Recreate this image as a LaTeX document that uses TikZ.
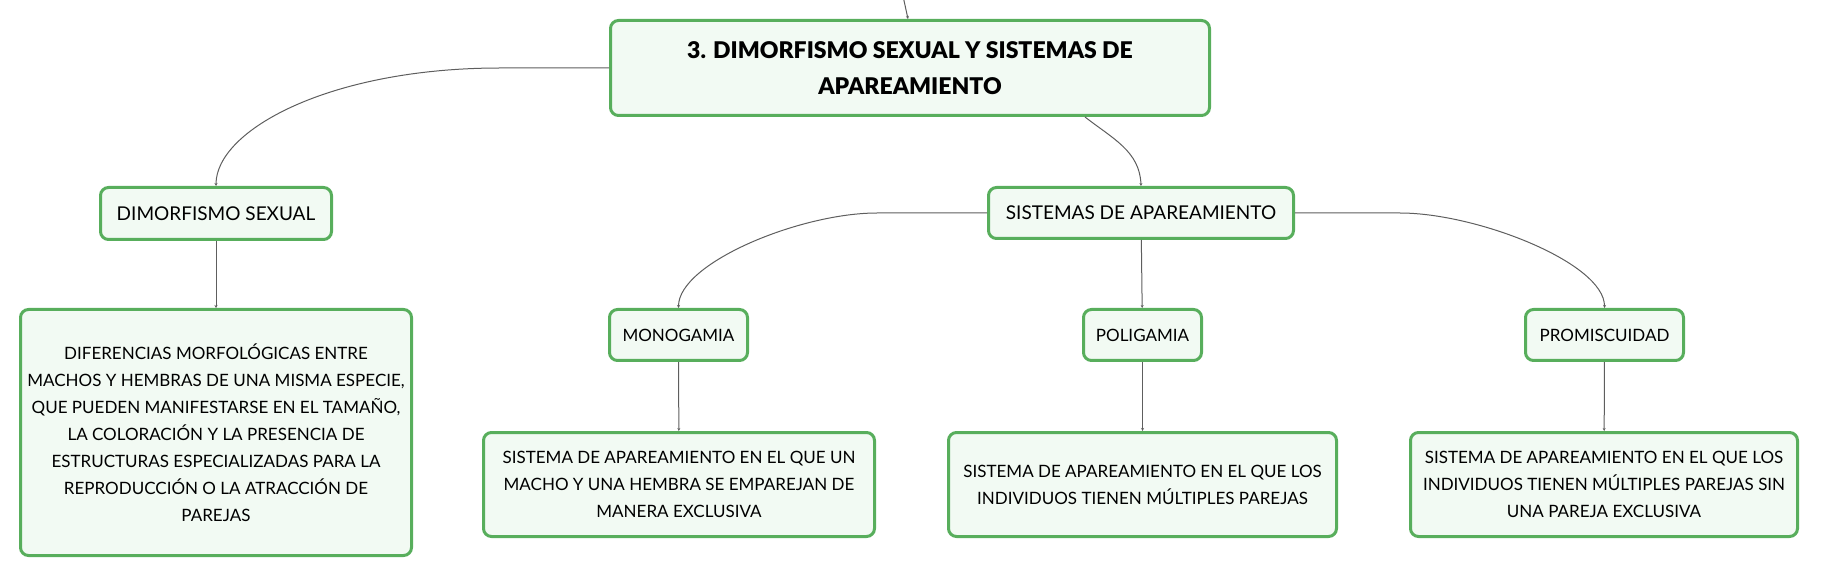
\documentclass[tikz,border=0pt]{standalone}
\usepackage{fontspec}
\setmainfont{Lato}
\newfontfamily\titlefont{Lato Black}
\usetikzlibrary{arrows.meta}
\definecolor{boxgreen}{HTML}{58AE5C}
\definecolor{boxfill}{HTML}{F2FAF3}
\definecolor{linkgray}{HTML}{5E5E5E}
\begin{document}
\begin{tikzpicture}[x=1pt,y=-1pt,
  topic/.style={draw=boxgreen,fill=boxfill,line width=3pt,rounded corners=8pt,
    align=center,inner sep=0pt,font=\fontsize{17}{27}\selectfont},
  subtopic/.style={topic,font=\fontsize{19}{27}\selectfont},
  title/.style={topic,font=\fontsize{23}{36}\selectfont\titlefont},
  link/.style={draw=linkgray,line width=1pt,-{Stealth[length=3pt,width=3pt]}}]
\useasboundingbox (0,0) rectangle (1821,577);

\node[title,minimum width=599,minimum height=95] (root) at (910,68) {3. DIMORFISMO SEXUAL Y SISTEMAS DE\\APAREAMIENTO};
\node[subtopic,minimum width=231,minimum height=52] (dimorf) at (216,213.5) {DIMORFISMO SEXUAL};
\node[subtopic,minimum width=305,minimum height=51] (sist) at (1141,213) {SISTEMAS DE APAREAMIENTO};

\node[topic,minimum width=391,minimum height=246] (dimdesc) at (216,432.5) {DIFERENCIAS MORFOLÓGICAS ENTRE\\MACHOS Y HEMBRAS DE UNA MISMA ESPECIE,\\QUE PUEDEN MANIFESTARSE EN EL TAMAÑO,\\LA COLORACIÓN Y LA PRESENCIA DE\\ESTRUCTURAS ESPECIALIZADAS PARA LA\\REPRODUCCIÓN O LA ATRACCIÓN DE\\PAREJAS};

\node[topic,minimum width=138,minimum height=51] (mono) at (678.5,335) {MONOGAMIA};
\node[topic,minimum width=118,minimum height=51] (poli) at (1142.5,335) {POLIGAMIA};
\node[topic,minimum width=158,minimum height=51] (promis) at (1604.5,335) {PROMISCUIDAD};

\node[topic,minimum width=391,minimum height=104] (monodesc) at (679,484.5) {SISTEMA DE APAREAMIENTO EN EL QUE UN\\MACHO Y UNA HEMBRA SE EMPAREJAN DE\\MANERA EXCLUSIVA};
\node[topic,minimum width=388,minimum height=104] (polidesc) at (1142.5,484.5) {SISTEMA DE APAREAMIENTO EN EL QUE LOS\\INDIVIDUOS TIENEN MÚLTIPLES PAREJAS};
\node[topic,minimum width=387,minimum height=104] (promdesc) at (1604,484.5) {SISTEMA DE APAREAMIENTO EN EL QUE LOS\\INDIVIDUOS TIENEN MÚLTIPLES PAREJAS SIN\\UNA PAREJA EXCLUSIVA};

\coordinate (up) at (903,-4);
\draw[link] (up) -- ([xshift=-2pt]root.north);
\draw[link] (root.west) -- ++(-109,0) .. controls +(-170,0) and +(0,-56) .. (dimorf.north);
\draw[link] ([xshift=175pt]root.south) to[out=-38,in=92] (sist.north);

\draw[link] (dimorf) -- (dimdesc);
\draw[link] (sist.west) -- ++(-110,0) .. controls +(-77,0) and +(0,-45) .. (mono.north);
\draw[link] (sist) -- (poli);
\draw[link] (sist.east) -- ++(105,0) .. controls +(77,0) and +(0,-45) .. (promis.north);

\draw[link] (mono) -- (monodesc);
\draw[link] (poli) -- (polidesc);
\draw[link] (promis) -- (promdesc);

\end{tikzpicture}
\end{document}
